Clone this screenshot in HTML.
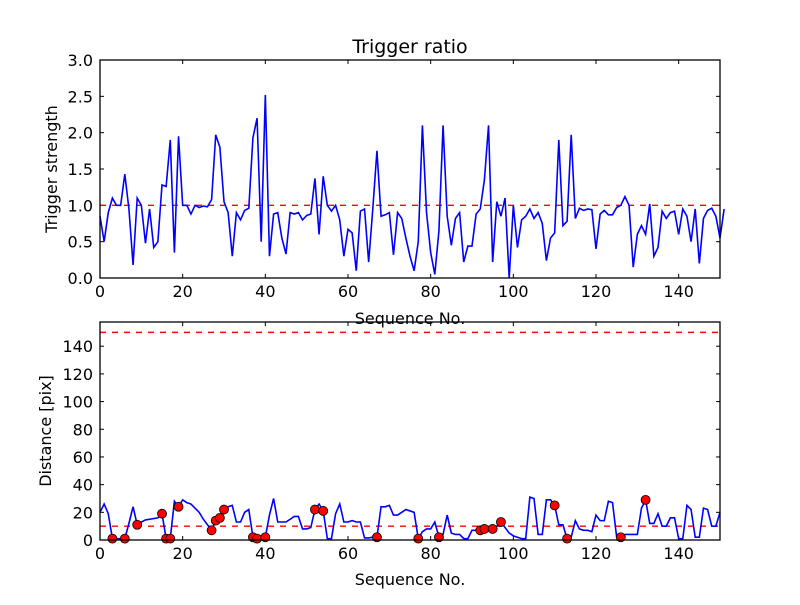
<!DOCTYPE html>
<html><head><meta charset="utf-8"><style>
html,body{margin:0;padding:0;background:#fff;}
svg text{font-family:"DejaVu Sans","Liberation Sans",sans-serif;fill:#000;}
</style></head><body>
<svg id="fig" width="800" height="600" viewBox="0 0 800 600" xmlns="http://www.w3.org/2000/svg">
<rect width="800" height="600" fill="#fff"/>
</svg>
<script>
const seqTicks=[0,20,40,60,80,100,120,140];
const ratioTicks=[0.0,0.5,1.0,1.5,2.0,2.5,3.0];
const distTicks=[0,20,40,60,80,100,120,140];
const ratio=[0.85,0.5,0.9,1.1,1.0,1.0,1.43,0.95,0.18,1.1,1.0,0.48,0.95,0.42,0.5,1.28,1.26,1.9,0.35,1.95,1.0,1.0,0.88,1.0,0.97,0.99,0.98,1.08,1.97,1.8,1.05,0.9,0.3,0.9,0.8,0.93,0.96,1.93,2.2,0.5,2.52,0.3,0.88,0.9,0.55,0.33,0.9,0.88,0.9,0.8,0.86,0.88,1.37,0.6,1.4,1.0,0.92,1.0,0.8,0.3,0.67,0.62,0.1,0.92,0.95,0.22,0.95,1.75,0.85,0.87,0.9,0.32,0.9,0.82,0.55,0.3,0.1,0.5,2.1,0.9,0.35,0.05,0.65,2.1,0.85,0.45,0.82,0.9,0.22,0.44,0.44,0.88,0.95,1.35,2.1,0.22,1.05,0.85,1.1,0.0,1.0,0.42,0.8,0.85,0.95,0.82,0.9,0.75,0.24,0.55,0.62,1.9,0.72,0.78,1.97,0.82,0.96,0.93,0.95,0.94,0.4,0.88,0.93,0.87,0.87,0.97,1.0,1.12,1.0,0.15,0.6,0.72,0.6,1.02,0.3,0.42,0.92,0.82,0.9,0.92,0.6,0.95,0.85,0.5,0.95,0.2,0.82,0.93,0.96,0.85,0.55,0.95];
const dist=[20,26,19,1,1,1,1,12,24,11,13,14.5,15,15.5,16,19,1,1,28,24,29,27,26,23,20,15,11,7,14,16,22,24,25,13,13,20,22,2,1,2,2,18,30,13,13,13,15,17,17,8,8,9,22,26,21,1,1,19,26,13,13,14,13,13,1.5,1.5,2,2,24,24,25,18,18,20,22,21,20,1,6,8,8,13,2,4,18,5,4,4,1,1,7,7,7,8,8,8,10,13,9,5,3,2,1,1,31,30,4,4,29,29,25,11,11,1,2,14,8,7,7,6,18,14,14,28,27,2,2,4,4,4,4,23,29,12,12,19,10,10,16,16,1,1,25,22,2,2,23,22,10,10,20];
const markerIdx=[3,6,9,15,16,17,19,27,28,29,30,37,38,40,52,54,67,77,82,92,93,95,97,110,113,126,132];
const ratioThreshold=1.0;
const distThresholds=[10,150];

const NS="http://www.w3.org/2000/svg";
const svg=document.getElementById('fig');
function mk(tag,attrs,parent){const e=document.createElementNS(NS,tag);for(const k in attrs)e.setAttribute(k,attrs[k]);(parent||svg).appendChild(e);return e;}
const L=100,R=720;
const xS=v=>L+(v-0)/(150-0)*(R-L);
function yTop(v){return 278-(v/3.0)*218;}
function yBot(v){return 540-(v/157.5)*218;}

function axes(top,bottom,yS,yTicks,yFmt,name){
  const g=mk('g',{});
  
  
  seqTicks.forEach(t=>{
    const x=xS(t);
    mk('line',{x1:x,x2:x,y1:bottom,y2:bottom-4,stroke:'#000','stroke-width':1},g);
    mk('line',{x1:x,x2:x,y1:top,y2:top+4,stroke:'#000','stroke-width':1},g);
    const tx=mk('text',{x:x,y:bottom+19,'text-anchor':'middle','font-size':16},g);
    
    
    tx.textContent=t;
  });
  yTicks.forEach(t=>{
    const y=yS(t);
    mk('line',{x1:L,x2:L+4,y1:y,y2:y,stroke:'#000','stroke-width':1},g);
    mk('line',{x1:R,x2:R-4,y1:y,y2:y,stroke:'#000','stroke-width':1},g);
    const tx=mk('text',{x:L-7,y:y+6,'text-anchor':'end','font-size':16},g);
    
    
    tx.textContent=yFmt(t);
  });
  return g;
}

axes(60,278,yTop,ratioTicks,t=>t.toFixed(1),'top-axes');
const th1=mk('line',{x1:L,x2:R,y1:yTop(ratioThreshold),y2:yTop(ratioThreshold),stroke:'#f00','stroke-width':1.4,'stroke-dasharray':'6,6'});


const p1=mk('polyline',{points:ratio.map((v,i)=>xS(i)+','+yTop(v)).join(' '),fill:'none',stroke:'#00f','stroke-width':1.6});


mk('rect',{x:L,y:60,width:R-L,height:218,fill:'none',stroke:'#000','stroke-width':1.3});

axes(322,540,yBot,distTicks,t=>String(t),'bottom-axes');
distThresholds.forEach(t=>{
  const l=mk('line',{x1:L,x2:R,y1:yBot(t),y2:yBot(t),stroke:'#f00','stroke-width':1.4,'stroke-dasharray':'6,6'});
  
  
});
const p2=mk('polyline',{points:dist.map((v,i)=>xS(i)+','+yBot(v)).join(' '),fill:'none',stroke:'#00f','stroke-width':1.6});


markerIdx.forEach(i=>{
  const c=mk('circle',{cx:xS(i),cy:yBot(dist[i]),r:4.5,fill:'#f00',stroke:'#000','stroke-width':0.8});
  
  
});
mk('rect',{x:L,y:322,width:R-L,height:218,fill:'none',stroke:'#000','stroke-width':1.3});
</script>
<svg style="position:absolute;left:0;top:0" width="800" height="600">
<text x="410" y="53" text-anchor="middle" font-size="19">Trigger ratio</text>
<text x="410" y="324" text-anchor="middle" font-size="16">Sequence No.</text>
<text x="410" y="585" text-anchor="middle" font-size="16">Sequence No.</text>
<text transform="translate(57,169) rotate(-90)" text-anchor="middle" font-size="16">Trigger strength</text>
<text transform="translate(51,431) rotate(-90)" text-anchor="middle" font-size="16">Distance [pix]</text>
</svg>
</body></html>
